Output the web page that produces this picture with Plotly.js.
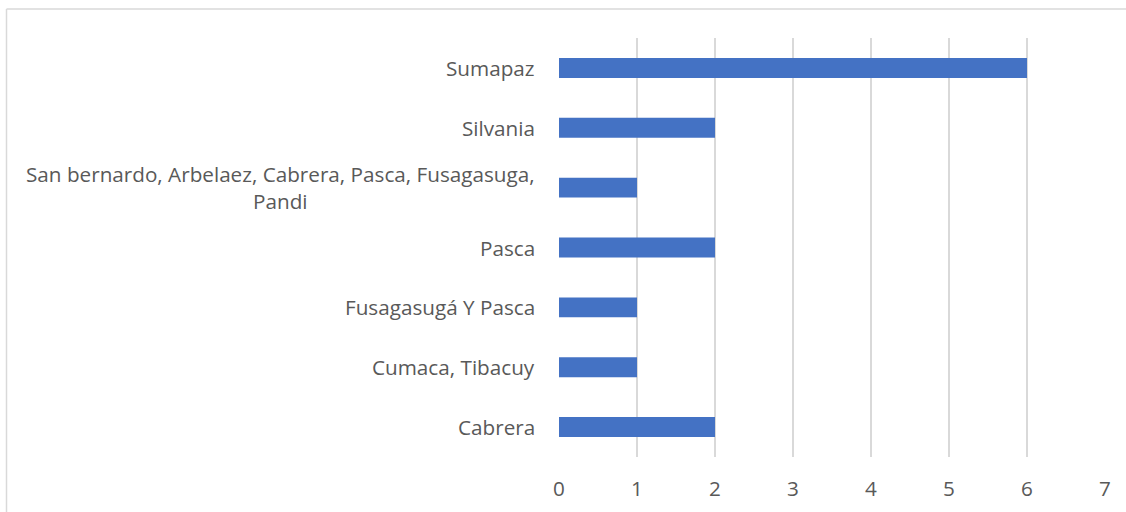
<!DOCTYPE html>
<html>
<head>
<meta charset="utf-8">
<script src="https://cdn.plot.ly/plotly-3.0.1.min.js"></script>
<style>html,body{margin:0;padding:0;background:#fff;}#chart{width:1126px;height:512px;}</style>
</head>
<body>
<div id="chart"></div>
<script>
const categories = [
  "Cabrera",
  "Cumaca, Tibacuy",
  "Fusagasugá Y Pasca",
  "Pasca",
  "San bernardo, Arbelaez, Cabrera, Pasca, Fusagasuga,<br>Pandi",
  "Silvania",
  "Sumapaz"
];
const values = [2, 1, 1, 2, 1, 2, 6];
const xTicks = [0, 1, 2, 3, 4, 5, 6, 7];

const fontFam = "Open Sans, Noto Sans, sans-serif";
const textColor = "#595959";

const annotations = categories.map((c, i) => ({
  text: c, xref: "paper", yref: "y", x: -0.0395, y: i,
  xanchor: "right", yanchor: "middle", align: "center", showarrow: false,
  font: {family: fontFam, size: 20.7, color: textColor}
}));

const trace = {
  type: "bar", orientation: "h",
  x: values, y: categories.map((c, i) => i),
  marker: {color: "#4472C4"},
  hoverinfo: "skip"
};

const layout = {
  width: 1126, height: 512,
  margin: {l: 559, r: 21, t: 38, b: 55},
  paper_bgcolor: "#fff", plot_bgcolor: "#fff",
  bargap: 0.667,
  showlegend: false,
  xaxis: {
    range: [0, 7], tickvals: xTicks, ticktext: xTicks.map(String),
    showgrid: true, gridcolor: "#d9d9d9", gridwidth: 1.5,
    zeroline: false, showline: false, ticks: "",
    tickfont: {family: fontFam, size: 20.7, color: textColor},
    ticklabelstandoff: 17
  },
  yaxis: {
    range: [-0.5, 6.5], showgrid: false, zeroline: false, showline: false,
    showticklabels: false, ticks: "", fixedrange: true
  },
  shapes: [
    {type: "line", xref: "paper", yref: "paper", x0: (6.5-559)/546, x1: 1.2, y0: (457-9)/419, y1: (457-9)/419, line: {color: "#d9d9d9", width: 1.5}},
    {type: "line", xref: "paper", yref: "paper", x0: (6.5-559)/546, x1: (6.5-559)/546, y0: (457-9)/419, y1: -0.3, line: {color: "#d9d9d9", width: 1.5}}
  ],
  annotations: annotations
};

Plotly.newPlot("chart", [trace], layout, {displayModeBar: false, staticPlot: true});
</script>
</body>
</html>
